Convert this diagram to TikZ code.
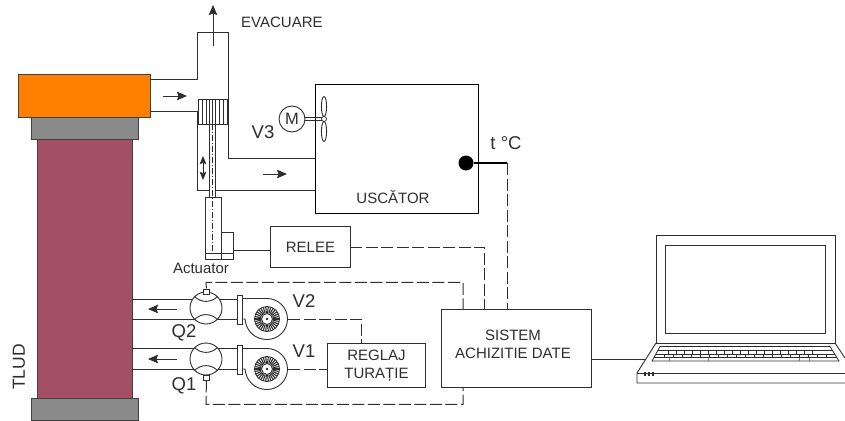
\documentclass[tikz,border=0pt]{standalone}
\usepackage{fontspec}
\setmainfont{Liberation Sans}
\usetikzlibrary{arrows.meta}
\definecolor{ink}{HTML}{2E2E2E}
\definecolor{orangeb}{HTML}{FF8000}
\definecolor{grayb}{HTML}{8A8A8A}
\definecolor{maroonb}{HTML}{A34F66}
\tikzset{
  line/.style={draw=ink,line width=0.9pt},
  thick line/.style={draw=black,line width=1.4pt},
  sig/.style={draw=ink,line width=1pt,dash pattern=on 12pt off 3.5pt},
  flow/.style={draw=ink,line width=0.9pt,-{Stealth[length=10pt,width=8.5pt,inset=1.5pt]}},
  block/.style={draw=ink,line width=0.9pt,inner sep=0pt,anchor=north west,align=center,text=ink},
  lab/.style={text=ink,inner sep=0pt,font=\fontsize{15}{18}\selectfont,align=center},
  big/.style={text=ink,inner sep=0pt,font=\fontsize{18.5}{22}\selectfont},
  part/.style={draw=black!75,line width=1pt,anchor=north west,inner sep=0pt}
}
\newcommand{\valve}[1]{%
  \begin{scope}[shift={(#1)}]
    \fill[white] (0,0) circle (16);
    \draw[line] (0,0) circle (16);
    \draw[line] (-11.5,-11.5) .. controls (-5,-5) and (5,-5) .. (11.5,-11.5);
    \draw[line] (-11.5,11.5) .. controls (-5,5) and (5,5) .. (11.5,11.5);
  \end{scope}}
\newcommand{\fan}[1]{% flange, scroll and impeller round the fan centre
  \begin{scope}[shift={(#1)}]
    \draw[line,fill=white] (-30,-24) rectangle (-25,5);
    \draw[line] (-25,-20.5) -- (0,-20.5) arc[start angle=-90,end angle=90,radius=20.5]
       .. controls (-12,20.5) and (-21,12) .. (-22,0) -- (-25,0);
    \draw[line,fill=white] (0,0) circle (12.5);
    \foreach \a in {0,12,...,348} \draw[draw=ink,line width=1.1pt] (\a:6) -- (\a:12);
    \draw[line,fill=white] (0,0) circle (5.5);
    \fill[ink] (0,0) circle (1.3);
  \end{scope}}
\begin{document}
\begin{tikzpicture}[x=1pt,y=-1pt]
\useasboundingbox (0,0) rectangle (845,420);
% gasifier
\node[part,fill=maroonb,minimum width=95pt,minimum height=259pt] (body) at (37,139) {};
\node[part,fill=grayb,minimum width=107pt,minimum height=22pt] (neck) at (31,117) {};
\node[part,fill=grayb,minimum width=107pt,minimum height=22pt] (foot) at (31,398) {};
\node[part,fill=orangeb,minimum width=132pt,minimum height=43pt] (head) at (18,74) {};
\node[big,rotate=90,font=\fontsize{17.5}{20}\selectfont] (tlud) at (19,367) {TLUD};
% exhaust and dryer ducts
\draw[line] (150,79) -- (197,79) -- (197,32) -- (228,32) -- (228,158) -- (315,158);
\draw[line] (150,111) -- (197,111) -- (197,190) -- (209,190) (215,190) -- (315,190);
\coordinate (exA) at (213,46); \coordinate (exB) at (213,5);
\draw[flow] (exA) -- (exB);
\node[lab,anchor=west] (evac) at (241,22) {EVACUARE};
\coordinate (f1a) at (163,96); \coordinate (f1b) at (187,96);
\draw[flow] (f1a) -- (f1b);
\coordinate (f2a) at (263,174); \coordinate (f2b) at (287,174);
\draw[flow] (f2a) -- (f2b);
% damper and rod
\node[part,draw=ink,line width=.9pt,fill=white,minimum width=29pt,minimum height=25pt] (damper) at (198,99) {};
\foreach \x/\w in {202/.5,206/.5,209/.8,212/.5,215/.8,219/.5,223/.5}
  \draw[draw=ink,line width=\w pt] (\x,99) -- (\x,124);
\draw[line] (209,124) -- (209,197) (215,124) -- (215,197);
\draw[draw=ink,line width=.5pt,dash pattern=on 6pt off 2pt on 1pt off 2pt] (212,124) -- (212,253);
\coordinate (ud1) at (203,168); \coordinate (ud2) at (203,156); \coordinate (ud3) at (203,180);
\draw[draw=ink,line width=.9pt,-{Stealth[length=8pt,width=6.5pt,inset=1pt]}] (ud1) -- (ud2);
\draw[draw=ink,line width=.9pt,-{Stealth[length=8pt,width=6.5pt,inset=1pt]}] (ud1) -- (ud3);
% actuator
\node[part,draw=ink,line width=.9pt,minimum width=16pt,minimum height=62pt] (act) at (205,197) {};
\node[part,draw=ink,line width=.9pt,minimum width=11.5pt,minimum height=27pt] (actside) at (221,232) {};
\draw[line] (205,253) -- (232.5,253) (205,259) -- (232.5,259);
\node[lab] (actlabel) at (201,268) {Actuator};
% dryer
\node[block,draw=black,line width=1.4pt,minimum width=163pt,minimum height=129pt] (usc) at (315,84) {};
\node[lab] (usctext) at (393,197) {USCĂTOR};
\node[circle,draw=ink,line width=.9pt,minimum size=26pt,inner sep=0pt,font=\fontsize{16.5}{18}\selectfont,text=ink] (motor) at (292,119) {M};
\node[big] (v3) at (263,132) {V3};
\draw[line] (305,117.5) -- (322,117.5) (305,120.5) -- (322,120.5);
\draw[line] (324,106.5) ellipse (2.6 and 10);
\draw[line] (324,131.5) ellipse (2.6 and 10);
\node[circle,draw=ink,line width=.8pt,fill=white,minimum size=5pt,inner sep=0pt] (hub) at (324,119) {};
% sensor
\node[circle,fill=black,minimum size=15pt,inner sep=0pt] (probe) at (466,163) {};
\coordinate (probeEnd) at (507,163);
\draw[thick line] (probe) -- (probeEnd);
\node[big] (tc) at (506,143) {t °C};
% boxes
\node[block,minimum width=80pt,minimum height=41pt,font=\fontsize{15}{18}\selectfont] (relee) at (270,226) {RELEE};
\node[block,minimum width=98pt,minimum height=44pt,font=\fontsize{15}{18}\selectfont] (reglaj) at (327,343) {REGLAJ\\TURAȚIE};
\node[block,minimum width=150pt,minimum height=78pt] (sistem) at (441,309) {};
\node[lab] (sistemtext) at (513,344) {SISTEM\\ACHIZITIE DATE};
% lower ducts
\draw[line] (132,299) -- (237,299);
\draw[line] (132,319) -- (237,319);
\draw[line] (132,348) -- (237,348);
\draw[line] (132,369) -- (237,369);
\coordinate (a1) at (177,309); \coordinate (a2) at (148,309);
\draw[flow] (a1) -- (a2);
\coordinate (a3) at (177,359); \coordinate (a4) at (148,359);
\draw[flow] (a3) -- (a4);
\fan{267,319}
\fan{267,369}
\valve{206,308}
\valve{206,359}
\node[part,draw=ink,line width=.8pt,fill=white,minimum width=6pt,minimum height=5pt] (s2) at (203,288.5) {};
\node[part,draw=ink,line width=.8pt,fill=white,minimum width=6pt,minimum height=5pt] (s1) at (203,374.5) {};
\node[big] (v2) at (304,301) {V2};
\node[big] (v1) at (304,351) {V1};
\node[big] (q2) at (184,333) {Q2};
\node[big] (q1) at (184,386) {Q1};
% signal lines
\coordinate (relayIn) at (232.5,250);
\draw[line] (relayIn) -- (relee.west |- relayIn);
\coordinate (v2out) at (288,319); \coordinate (v2turn) at (361,319);
\draw[sig] (v2out) -- (v2turn) -- (v2turn |- reglaj.north);
\coordinate (v1out) at (288,369);
\draw[sig] (v1out) -- (reglaj.west |- v1out);
\draw[sig] (probeEnd) -- (probeEnd |- sistem.north);
\coordinate (relayOut) at (350,247);
\draw[sig] (relayOut) -- (484,247) -- (484,309);
\draw[sig] (s2.north) -- (206,282.4) -- (463,282.4) -- (463,309);
\draw[sig] (s1.south) -- (206,404.4) -- (463,404.4) -- (463,387);
% laptop
\coordinate (lapCable) at (645,359);
\draw[line] (sistem.east |- lapCable) -- (lapCable);
\node[part,draw=ink,minimum width=179pt,minimum height=108pt,line width=.9pt] (lid) at (656,235) {};
\node[part,draw=ink,minimum width=160pt,minimum height=88pt,line width=.9pt] (screen) at (665,245) {};
\draw[line] (656,343) -- (637,373) -- (637,383) -- (845,383);
\draw[line] (637,373.5) -- (845,373.5);
\draw[line] (835,343) -- (845,358);
\draw[draw=ink,line width=.8pt] (660,346.5) -- (830,346.5) -- (839,361) -- (652,361) -- cycle;
\draw[draw=ink,line width=.5pt] (658,350.5) -- (832,350.5) (656,354) -- (835,354) (654,357.5) -- (837,357.5);
\foreach \x in {668,676,...,812} \draw[draw=ink,line width=.5pt] (\x,350.5) -- (\x,354);
\foreach \x in {664,673,...,826} \draw[draw=ink,line width=.5pt] (\x,354) -- (\x,357.5);
\foreach \x in {670,709,800,810} \draw[draw=ink,line width=.5pt] (\x,357.5) -- (\x-1,361);
\foreach \x in {645,649,653} \draw[draw=ink,line width=1.2pt] (\x,372) -- (\x,375.5);
\end{tikzpicture}
\end{document}
